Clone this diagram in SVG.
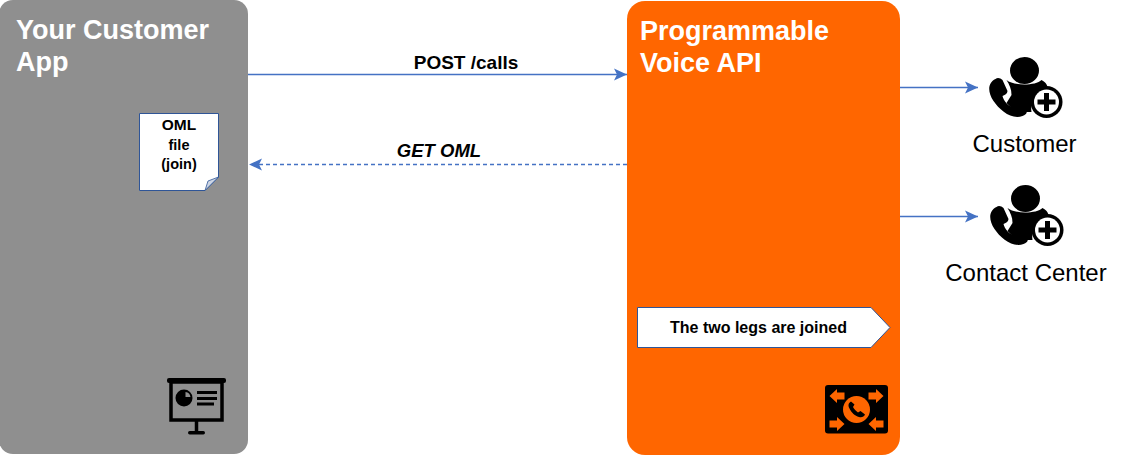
<svg xmlns="http://www.w3.org/2000/svg" width="1123" height="455" viewBox="0 0 1123 455">
<style>
text{font-family:"Liberation Sans",Arial,sans-serif;fill:#000}
.h{font-size:27px;font-weight:700;fill:#fff}
.b{font-weight:700}
.c{text-anchor:middle}
.ln{stroke:#4472c4;stroke-width:1.3;fill:none}
.k{fill:#000}
.or{fill:#ff6600}
</style>
<defs>
<marker id="ah" viewBox="0 0 14 14" refX="13" refY="7" markerWidth="14" markerHeight="14" markerUnits="userSpaceOnUse" orient="auto"><path d="M0 1L13 7L0 13L3 7Z" fill="#4472c4"/></marker>
<g id="person">
<ellipse cx="37" cy="12.500" rx="14.500" ry="13.500" class="k"/>
<path class="k" d="M19 22C26 28 48 28 54 22C60 25 61 30 60 34C50 33 42 42 44 54L27 54C25 51 22 48 19 45L24 37C24 31 22 27 19 22Z"/>
<path class="k" d="M8 21C10 19 13 20 15 22L20 33C20 35 18 37 15 38C16 43 21 48 26 50C28 47 31 46 33 47L39 53C40 55 38 57 35 58C24 62 12 52 6 43C0 34 0 25 8 21Z"/>
<circle cx="59" cy="44" r="16" fill="#000"/>
<circle cx="59" cy="44" r="12.500" fill="#fff"/>
<path class="k" d="M56.500 35H61.500V41.500H68V46.500H61.500V53H56.500V46.500H50V41.500H56.500Z"/>
</g>
</defs>
<g id="customer-app">
<rect x="-1" y="0" width="249" height="454" rx="14" fill="#8f8f8f"/>
<text class="h" x="16" y="39">Your Customer</text>
<text class="h" x="16" y="71">App</text>
<g id="presentation-icon">
<rect x="167" y="378" width="59" height="5" rx="2" class="k"/>
<rect x="171" y="382" width="51" height="38" fill="none" stroke="#000" stroke-width="3.500"/>
<circle cx="184" cy="398" r="8.500" class="k"/>
<path d="M185.500 392A6 6 0 0 1 190.500 397L185.500 397Z" fill="#8f8f8f"/>
<path d="M197 392.500H217M197 398.500H217M197 404H214" stroke="#000" stroke-width="2.800" fill="none"/>
<path d="M196.500 421V433" stroke="#000" stroke-width="3.500"/>
<rect x="188" y="431" width="17" height="3.500" rx="1.700" class="k"/>
</g>
</g>
<g id="oml-file">
<path d="M139.500 113.500H218.500V177L205 190.500H139.500Z" fill="#fff" stroke="#2f5597" stroke-width="1"/>
<path d="M218.500 177L205 190.500L208 181Z" fill="#cdd5e3" stroke="#2f5597" stroke-width=".8"/>
<text class="b c" font-size="15.500" x="179" y="130">OML</text>
<text class="b c" font-size="14.500" x="179" y="150">file</text>
<text class="b c" font-size="14.500" x="179" y="169">(join)</text>
</g>
<g id="voice-api">
<rect x="627" y="1" width="273" height="454" rx="18" class="or"/>
<text class="h" x="640" y="40">Programmable</text>
<text class="h" x="640" y="72">Voice API</text>
<g id="joined-note">
<path d="M637.500 307.500H871L890 327.500L871 347.500H637.500Z" fill="#fff" stroke="#2f5597" stroke-width="1"/>
<text class="b c" font-size="16" x="758.500" y="333">The two legs are joined</text>
</g>
<g id="switch-icon">
<rect x="825" y="385" width="63" height="48.500" rx="3" class="k"/>
<circle cx="856.500" cy="409.500" r="13.500" class="or"/>
<path d="M851 401.500C848 403 848 406 849.500 408.500C851.500 412.500 855 416 859 417C861.500 417.800 864 417 865 414.500L860.500 411L858 412.500C856 411 854 409 853 407L854.500 404.500Z" fill="#000"/>
<path class="or" d="M829.500 396L837 389V392.500H844.500V399.500H837V403Z"/>
<path class="or" d="M883.500 396L876 389V392.500H868.500V399.500H876V403Z"/>
<path class="or" d="M844.500 424L837 417V420.500H829.500V427.500H837V431Z"/>
<path class="or" d="M868.500 424L876 417V420.500H883.500V427.500H876V431Z"/>
</g>
</g>
<g id="customer">
<use href="#person" x="987.500" y="58"/>
<text class="c" font-size="24" x="1024.500" y="152">Customer</text>
</g>
<g id="contact-center">
<use href="#person" x="988.500" y="186"/>
<text class="c" font-size="24" x="1026" y="281">Contact Center</text>
</g>
<g id="connectors">
<path class="ln" marker-end="url(#ah)" d="M248 74.500H627"/>
<path class="ln" marker-end="url(#ah)" stroke-dasharray="4 3" d="M627 164.500H249"/>
<path class="ln" marker-end="url(#ah)" d="M900 87.500H978"/>
<path class="ln" marker-end="url(#ah)" d="M900 216.500H978"/>
<text class="b c" font-size="19" x="466" y="68.500">POST /calls</text>
<text class="b c" font-size="18.500" font-style="italic" x="439" y="157">GET OML</text>
</g>
</svg>
